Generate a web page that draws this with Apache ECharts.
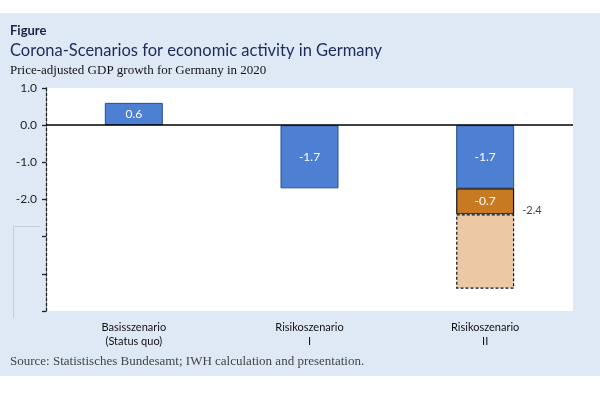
<!DOCTYPE html>
<html><head><meta charset="utf-8">
<script src="https://cdn.jsdelivr.net/npm/echarts@6/dist/echarts.min.js"></script>
<style>html,body{margin:0;padding:0;background:#fff}#c{width:600px;height:393px}</style>
</head><body><div id="c"></div>
<script>
const categories = ['Basisszenario\n(Status quo)', 'Risikoszenario\nI', 'Risikoszenario\nII'];
const baseGrowth = [0.6, -1.7, -1.7];
const extraRisk = [null, null, -0.7];
const uncertainty = [null, null, -2.0];
const totals = [null, null, -2.4];
const yTickLabels = {'1': '1.0', '0': '0.0', '-1': '-1.0', '-2': '-2.0'};

const SANS = 'Lato, "Noto Sans", sans-serif';
const SERIF = '"Liberation Serif", "DejaVu Serif", serif';

const chart = echarts.init(document.getElementById('c'), null, {renderer: 'canvas'});
chart.setOption({
  backgroundColor: '#dfe9f6',
  animation: false,
  title: [
    {text: 'Figure', left: 10, top: 24, padding: 0, textStyle: {fontFamily: SANS, fontSize: 13, fontWeight: 'bold', color: '#1b2244'}},
    {text: 'Corona-Scenarios for economic activity in Germany', left: 10, top: 42, padding: 0, textStyle: {fontFamily: SANS, fontSize: 16.5, fontWeight: 'normal', color: '#1d2a5a'}},
    {text: 'Price-adjusted GDP growth for Germany in 2020', left: 10, top: 64.5, padding: 0, textStyle: {fontFamily: SERIF, fontSize: 13, fontWeight: 'normal', color: '#111'}},
    {text: 'Source: Statistisches Bundesamt; IWH calculation and presentation.', left: 10, top: 355.5, padding: 0, textStyle: {fontFamily: SERIF, fontSize: 13, fontWeight: 'normal', color: '#444'}}
  ],
  graphic: [
    {type: 'rect', shape: {x: 0, y: 0, width: 600, height: 13}, style: {fill: '#ffffff'}, silent: true},
    {type: 'rect', shape: {x: 0, y: 376, width: 600, height: 17}, style: {fill: '#ffffff'}, silent: true},
    {type: 'polyline', shape: {points: [[13.5, 318], [13.5, 226.5], [40, 226.5]]}, style: {stroke: '#c5cfdc', lineWidth: 1, fill: null}, silent: true}
  ],
  grid: {left: 46, right: 27, top: 88, bottom: 82, show: true, backgroundColor: '#ffffff', borderWidth: 0},
  xAxis: {
    type: 'category', data: categories,
    axisLine: {show: false, onZero: false}, axisTick: {show: false},
    axisLabel: {fontFamily: SANS, fontSize: 11, color: '#111', lineHeight: 14, margin: 9}
  },
  yAxis: {
    type: 'value', min: -5, max: 1, interval: 1,
    splitLine: {show: false},
    axisLine: {show: true, lineStyle: {color: '#222', type: [3, 2], width: 1.3}},
    axisTick: {show: true, length: 4, lineStyle: {color: '#222', width: 1.3}},
    axisLabel: {fontFamily: SANS, fontSize: 12, color: '#222', margin: 9,
      formatter: v => yTickLabels[String(v)] || ''}
  },
  series: [
    {
      type: 'bar', stack: 's', data: baseGrowth, barWidth: 58,
      itemStyle: {color: '#4d80d2', borderColor: '#2c4f8c', borderWidth: 1},
      label: {show: true, position: 'inside', color: '#fff', fontFamily: SANS, fontSize: 12,
        formatter: p => p.value.toFixed(1)},
      markLine: {silent: true, symbol: ['none', 'none'], label: {show: false},
        lineStyle: {color: '#000', type: 'solid', width: 1.5}, data: [{yAxis: 0}]}
    },
    {
      type: 'bar', stack: 's', data: extraRisk, barWidth: 58,
      itemStyle: {color: '#c77a22', borderColor: '#111', borderWidth: 1.2},
      label: {show: true, position: 'inside', color: '#fff', fontFamily: SANS, fontSize: 12,
        formatter: p => p.value.toFixed(1)}
    },
    {
      type: 'bar', stack: 's', data: uncertainty, barWidth: 58,
      itemStyle: {color: '#ecc9a4', borderColor: '#111', borderWidth: 1.2, borderType: [3, 2]}
    },
    {
      type: 'scatter', data: totals, symbolSize: 0, z: 5,
      label: {show: true, position: 'right', distance: 37, offset: [0, -4], color: '#111', fontFamily: SANS, fontSize: 11,
        formatter: p => p.value.toFixed(1)}
    }
  ]
});
</script></body></html>
